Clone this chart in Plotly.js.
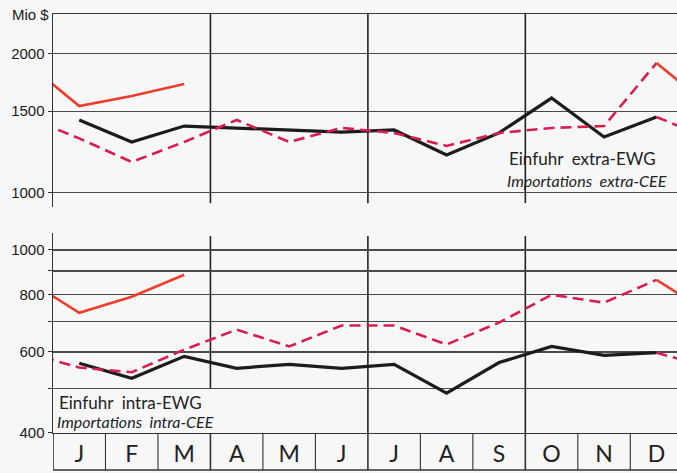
<!DOCTYPE html>
<html>
<head>
<meta charset="utf-8">
<script src="https://cdn.plot.ly/plotly-3.0.1.min.js"></script>
<style>html,body{margin:0;padding:0;background:#f7f7f7;}#chart{width:677px;height:473px;}</style>
</head>
<body>
<div id="chart"></div>
<script>
// Months (German/French initials)
var months = ['J','F','M','A','M','J','J','A','S','O','N','D'];
var monthIdx = [0,1,2,3,4,5,6,7,8,9,10,11];

// Einfuhr extra-EWG / Importations extra-CEE (Mio $)
var extraBlack  = [1436,1287,1393,1380,1366,1352,1366,1206,1346,1601,1319,1457];
var extraDashed = [1310,1165,1287,1436,1287,1380,1346,1262,1346,1380,1393,1906];
var extraSolid  = [1539,1617,1717];

// Einfuhr intra-EWG / Importations intra-CEE (Mio $)
var intraBlack  = [567,526,587,553,564,553,564,488,569,617,590,598];
var intraDashed = [555,542,607,671,617,685,685,623,695,799,768,861];
var intraSolid  = [730,791,883];

var topTicks = [1000,1500,2000];
var botTicks = [400,500,600,700,800,900,1000];
var botTickText = ['400','','600','','800','','1000'];

var cBlack = '#1c1c1c', cDash = '#d61f4e', cSolid = '#ec3d2d';

function series(xs, ys, xa, ya, color, dash, width){
  return {x: xs, y: ys, xaxis: xa, yaxis: ya, type: 'scatter', mode: 'lines',
          line: {color: color, width: width, dash: dash}, hoverinfo: 'skip', showlegend: false};
}
function last(a){ return a[a.length-1]; }

var traces = [];
function panel(black, dashed, solid, xa, ya){
  // each year's line continues from the previous year's December and into the next year's January
  traces.push(series(monthIdx, black, xa, ya, cBlack, 'solid', 3.2));
  traces.push(series([-1].concat(monthIdx), [last(black)].concat(dashed), xa, ya, cDash, '11px,6px', 2.6));
  traces.push(series([11, 12], [last(black), dashed[0]], xa, ya, cDash, '11px,6px', 2.6));
  var sx = [-1].concat(monthIdx.slice(0, solid.length));
  traces.push(series(sx, [last(dashed)].concat(solid), xa, ya, cSolid, 'solid', 2.6));
  traces.push(series([11, 12], [last(dashed), solid[0]], xa, ya, cSolid, 'solid', 2.6));
}
panel(extraBlack, extraDashed, extraSolid, 'x', 'y');
panel(intraBlack, intraDashed, intraSolid, 'x2', 'y2');

var shapes = [];
// quarter separators
[2.5, 5.5, 8.5].forEach(function(q, i){
  shapes.push({type:'line', xref:'x', yref:'y domain', x0:q, x1:q, y0:0.02, y1:1, line:{color:'#222', width:1.6}, layer:'below'});
  shapes.push({type:'line', xref:'x2', yref:'y2 domain', x0:q, x1:q, y0:(i===0 ? 0.2196 : 0), y1:0.985, line:{color:'#222', width:1.6}, layer:'below'});
});
// month row cells
var rowBottom = -0.0883;
monthIdx.forEach(function(m){
  shapes.push({type:'line', xref:'x2', yref:'paper', x0:m-0.5, x1:m-0.5, y0:rowBottom, y1:0, line:{color:'#333', width:(m%3===0 ? 1.6 : 1.1)}});
});
shapes.push({type:'line', xref:'paper', yref:'paper', x0:0, x1:1, y0:rowBottom, y1:rowBottom, line:{color:'#333', width:1.4}});

var fontMain = 'Lato, "Open Sans", sans-serif';
var fontTick = '"Liberation Sans", Arial, sans-serif';
var layout = {
  width: 677, height: 473,
  margin: {l: 53, r: 0, t: 14, b: 40},
  paper_bgcolor: '#f7f7f7', plot_bgcolor: '#f7f7f7',
  font: {family: fontMain, color: '#222'},
  xaxis: {anchor: 'y', range: [-0.5, 11.39], showticklabels: false, showgrid: false, zeroline: false,
          side: 'top', showline: true, linecolor: '#3b3b28', linewidth: 1.4, ticks: ''},
  xaxis2: {anchor: 'y2', matches: 'x', range: [-0.5, 11.39], tickvals: monthIdx, ticktext: months,
           showgrid: false, zeroline: false, ticks: '', showline: true, linecolor: '#333', linewidth: 1.4,
           tickfont: {size: 23, color: '#222', family: fontMain}},
  yaxis: {type: 'log', domain: [0.5394, 1], range: [2.9691, 3.386], tickvals: topTicks, ticktext: topTicks.map(String),
          showgrid: true, gridcolor: '#4a4a4a', gridwidth: 1.2, zeroline: false, showline: true, linecolor: '#333', linewidth: 1.5,
          ticks: 'outside', ticklen: 4, tickcolor: '#333', tickfont: {size: 15, color: '#1a1a1a', family: fontTick}},
  yaxis2: {type: 'log', domain: [0, 0.4773], range: [2.6020, 3.0368], tickvals: botTicks, ticktext: botTickText,
           showgrid: true, gridcolor: '#4a4a4a', gridwidth: 1.2, zeroline: false, showline: true, linecolor: '#333', linewidth: 1.5,
           ticks: 'outside', ticklen: 4, tickcolor: '#333', tickfont: {size: 15, color: '#1a1a1a', family: fontTick}},
  shapes: shapes,
  annotations: [
    {text: 'Mio $', xref: 'paper', yref: 'paper', x: -0.003, y: 1.0, xanchor: 'right', yanchor: 'middle', showarrow: false, font: {size: 15, color: '#1a1a1a', family: fontTick}},
    {text: 'Einfuhr  extra-EWG', xref: 'paper', yref: 'paper', x: 0.727, y: 0.6563, xanchor: 'left', yanchor: 'middle', showarrow: false, font: {size: 17, color: '#222'}},
    {text: '<i>Importations  extra-CEE</i>', xref: 'paper', yref: 'paper', x: 0.725, y: 0.6038, xanchor: 'left', yanchor: 'middle', showarrow: false, font: {size: 16, color: '#222'}},
    {text: 'Einfuhr  intra-EWG', xref: 'paper', yref: 'paper', x: 0.006, y: 0.0716, xanchor: 'left', yanchor: 'middle', showarrow: false, font: {size: 17, color: '#222'}},
    {text: '<i>Importations  intra-CEE</i>', xref: 'paper', yref: 'paper', x: 0.004, y: 0.0263, xanchor: 'left', yanchor: 'middle', showarrow: false, font: {size: 16, color: '#222'}}
  ]
};

Plotly.newPlot('chart', traces, layout, {staticPlot: true, displayModeBar: false});
</script>
</body>
</html>
